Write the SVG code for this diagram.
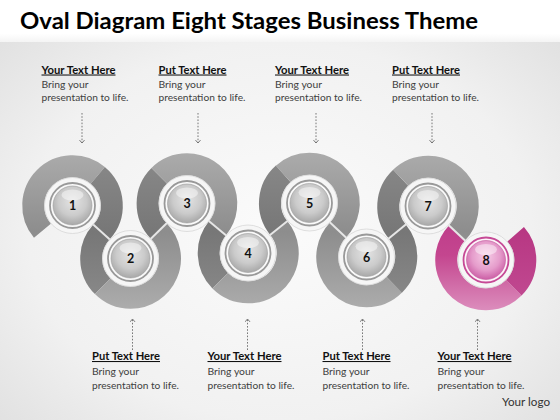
<svg xmlns="http://www.w3.org/2000/svg" width="560" height="420" viewBox="0 0 560 420">
<style>
.title{font-family:Lato,"Open Sans","Liberation Sans",sans-serif;font-weight:bold;font-size:23px;fill:#000}
.hd{font-family:Lato,"Open Sans","Liberation Sans",sans-serif;font-weight:bold;font-size:10.5px;fill:#111;text-decoration:underline}
.bd{font-family:Lato,"Open Sans","Liberation Sans",sans-serif;font-size:10px;fill:#404040}
.num{font-family:Lato,"Open Sans","Liberation Sans",sans-serif;font-weight:bold;font-size:12.5px;fill:#111;text-anchor:middle}
.logo{font-family:Lato,"Open Sans","Liberation Sans",sans-serif;font-size:10.5px;fill:#333}
.rl{fill:none;stroke:url(#gLight);stroke-width:22}
.rd{fill:none;stroke:url(#gDark);stroke-width:22}
.pl{fill:none;stroke:url(#pLight);stroke-width:22}
.pd{fill:none;stroke:url(#pDark);stroke-width:22}
.halo{fill:#f6f6f6;stroke:#d2d2d2;stroke-width:0.7}
.ring{fill:#fafafa;stroke:#999;stroke-width:1.8}
.pring{fill:#fdf3f9;stroke:#c64a96;stroke-width:1.8}
.sph{fill:url(#gSph);stroke:#9c9c9c;stroke-width:0.6}
.psph{fill:url(#pSph);stroke:#c35a9c;stroke-width:0.6}
.hl{fill:#fff;opacity:0.45}
.link{stroke:#e6e6e6;stroke-width:2;fill:none}
.dash{stroke:#6a6a6a;stroke-width:0.9;stroke-dasharray:1.6 1.6;fill:none;marker-end:url(#chev)}
</style>
<defs>
<radialGradient id="bg" cx="0.5" cy="0.55" r="0.75">
<stop offset="0" stop-color="#fbfbfb"/><stop offset="0.6" stop-color="#f1f1f1"/><stop offset="1" stop-color="#dcdcdc"/>
</radialGradient>
<linearGradient id="top" x1="0" y1="0" x2="0" y2="1">
<stop offset="0" stop-color="#ffffff"/><stop offset="0.8" stop-color="#ffffff"/><stop offset="1" stop-color="#f4f4f4"/>
</linearGradient>
<linearGradient id="gLight" gradientUnits="userSpaceOnUse" x1="0" y1="153" x2="0" y2="311">
<stop offset="0" stop-color="#ababab"/><stop offset="0.5" stop-color="#8d8d8d"/><stop offset="1" stop-color="#adadad"/>
</linearGradient>
<linearGradient id="gDark" gradientUnits="userSpaceOnUse" x1="0" y1="153" x2="0" y2="311">
<stop offset="0" stop-color="#8a8a8a"/><stop offset="0.5" stop-color="#777777"/><stop offset="1" stop-color="#8c8c8c"/>
</linearGradient>
<linearGradient id="pLight" gradientUnits="userSpaceOnUse" x1="0" y1="210" x2="0" y2="311">
<stop offset="0" stop-color="#bc3888"/><stop offset="0.45" stop-color="#c4468f"/><stop offset="1" stop-color="#dc8ebd"/>
</linearGradient>
<linearGradient id="pDark" gradientUnits="userSpaceOnUse" x1="0" y1="210" x2="0" y2="311">
<stop offset="0" stop-color="#b5327f"/><stop offset="1" stop-color="#c24c93"/>
</linearGradient>
<radialGradient id="gSph" cx="0.5" cy="0.4" r="0.6">
<stop offset="0" stop-color="#e4e4e4"/><stop offset="0.6" stop-color="#cbcbcb"/><stop offset="1" stop-color="#a8a8a8"/>
</radialGradient>
<radialGradient id="pSph" cx="0.5" cy="0.4" r="0.6">
<stop offset="0" stop-color="#f6cce6"/><stop offset="0.6" stop-color="#e59ccb"/><stop offset="1" stop-color="#cc5fa6"/>
</radialGradient>
<marker id="chev" markerUnits="userSpaceOnUse" markerWidth="8" markerHeight="8" refX="3.4" refY="3" orient="auto" viewBox="0 0 8 8">
<path d="M0.5,0.5 L3.4,3 L0.5,5.5" fill="none" stroke="#6a6a6a" stroke-width="0.9"/>
</marker>
</defs>

<rect x="0" y="0" width="560" height="420" fill="url(#bg)"/>
<rect x="0" y="0" width="560" height="42" fill="url(#top)"/>
<text class="title" x="20" y="29" textLength="458" lengthAdjust="spacingAndGlyphs">Oval Diagram Eight Stages Business Theme</text>

<g id="node1">
<path class="rl" d="M42.4 230.76 A39.3 39.3 0 0 1 97.76 175.4"/>
<path class="rd" d="M97.76 175.4 A39.3 39.3 0 0 1 101.5 232"/>
<circle class="halo" cx="72.5" cy="205.5" r="28"/>
<circle class="ring" cx="72.5" cy="205.5" r="22.5"/>
<circle class="sph" cx="72.5" cy="205.5" r="19.5"/>
<ellipse class="hl" cx="72.5" cy="195" rx="11" ry="5.5"/>
<text class="num" x="72.5" y="210">1</text>
</g>
<g id="node2">
<path class="rd" d="M101.5 232 A39.3 39.3 0 0 0 102.71 286.29"/>
<path class="rl" d="M102.71 286.29 A39.3 39.3 0 0 0 130.5 297.8 A39.3 39.3 0 0 0 158.75 231"/>
<circle class="halo" cx="130.5" cy="258.5" r="28"/>
<circle class="ring" cx="130.5" cy="258.5" r="22.5"/>
<circle class="sph" cx="130.5" cy="258.5" r="19.5"/>
<ellipse class="hl" cx="130.5" cy="248" rx="11" ry="5.5"/>
<text class="num" x="130.5" y="263">2</text>
</g>
<g id="node3">
<path class="rd" d="M158.75 231 A39.3 39.3 0 0 1 159.21 175.71"/>
<path class="rl" d="M159.21 175.71 A39.3 39.3 0 0 1 187 164.2 A39.3 39.3 0 0 1 217.5 228.25"/>
<circle class="halo" cx="187" cy="203.5" r="28"/>
<circle class="ring" cx="187" cy="203.5" r="22.5"/>
<circle class="sph" cx="187" cy="203.5" r="19.5"/>
<ellipse class="hl" cx="187" cy="193" rx="11" ry="5.5"/>
<text class="num" x="187" y="208">3</text>
</g>
<g id="node4">
<path class="rd" d="M217.5 228.25 A39.3 39.3 0 0 0 220.21 280.79"/>
<path class="rl" d="M220.21 280.79 A39.3 39.3 0 0 0 248 292.3 A39.3 39.3 0 0 0 278.75 228"/>
<circle class="halo" cx="248" cy="253" r="28"/>
<circle class="ring" cx="248" cy="253" r="22.5"/>
<circle class="sph" cx="248" cy="253" r="19.5"/>
<ellipse class="hl" cx="248" cy="242.5" rx="11" ry="5.5"/>
<text class="num" x="248" y="257.5">4</text>
</g>
<g id="node5">
<path class="rd" d="M278.75 228 A39.3 39.3 0 0 1 283.2 173.8"/>
<path class="rl" d="M283.2 173.8 A39.3 39.3 0 0 1 309.5 163.7 A39.3 39.3 0 0 1 338 230"/>
<circle class="halo" cx="309.5" cy="203" r="28"/>
<circle class="ring" cx="309.5" cy="203" r="22.5"/>
<circle class="sph" cx="309.5" cy="203" r="19.5"/>
<ellipse class="hl" cx="309.5" cy="192.5" rx="11" ry="5.5"/>
<text class="num" x="309.5" y="207.5">5</text>
</g>
<g id="node6">
<path class="rl" d="M338 230 A39.3 39.3 0 0 0 366.5 296.3 A39.3 39.3 0 0 0 394.29 284.79"/>
<path class="rd" d="M394.29 284.79 A39.3 39.3 0 0 0 397.25 231.5"/>
<circle class="halo" cx="366.5" cy="257" r="28"/>
<circle class="ring" cx="366.5" cy="257" r="22.5"/>
<circle class="sph" cx="366.5" cy="257" r="19.5"/>
<ellipse class="hl" cx="366.5" cy="246.5" rx="11" ry="5.5"/>
<text class="num" x="366.5" y="261.5">6</text>
</g>
<g id="node7">
<path class="rd" d="M397.25 231.5 A39.3 39.3 0 0 1 400.7 177.73"/>
<path class="rl" d="M400.7 177.73 A39.3 39.3 0 0 1 428 166.7 A39.3 39.3 0 0 1 457 233"/>
<circle class="halo" cx="428" cy="206" r="28"/>
<circle class="ring" cx="428" cy="206" r="22.5"/>
<circle class="sph" cx="428" cy="206" r="19.5"/>
<ellipse class="hl" cx="428" cy="195.5" rx="11" ry="5.5"/>
<text class="num" x="428" y="210.5">7</text>
</g>
<g id="node8">
<path class="pl" d="M457 233 A39.3 39.3 0 0 0 486 299.3 A39.3 39.3 0 0 0 513.79 287.79"/>
<path class="pd" d="M513.79 287.79 A39.3 39.3 0 0 0 515.66 234.22"/>
<circle class="halo" cx="486" cy="260" r="28"/>
<circle class="pring" cx="486" cy="260" r="22.5"/>
<circle class="psph" cx="486" cy="260" r="19.5"/>
<ellipse class="hl" cx="486" cy="249.5" rx="11" ry="5.5"/>
<text class="num" x="486" y="264.5">8</text>
</g>

<g id="connectors">
<line class="link" x1="93.2" y1="224.4" x2="109.8" y2="239.6"/>
<line class="link" x1="150.6" y1="239" x2="166.9" y2="223"/>
<line class="link" x1="208.8" y1="221.1" x2="226.2" y2="235.4"/>
<line class="link" x1="269.7" y1="235.3" x2="287.8" y2="220.7"/>
<line class="link" x1="329.8" y1="222.3" x2="346.2" y2="237.7"/>
<line class="link" x1="388.1" y1="239.1" x2="406.4" y2="223.9"/>
<line class="link" x1="448.5" y1="225.1" x2="465.5" y2="240.9"/>
<path class="dash" d="M82 113 V143"/>
<path class="dash" d="M198 113 V143"/>
<path class="dash" d="M316 113 V143"/>
<path class="dash" d="M432 113 V143"/>
<path class="dash" d="M132.5 350 V319"/>
<path class="dash" d="M247.5 350 V319"/>
<path class="dash" d="M362.5 350 V319"/>
<path class="dash" d="M477.5 350 V319"/>
</g>

<g id="labels">
<text class="hd" x="41.5" y="73.5" textLength="74" lengthAdjust="spacingAndGlyphs">Your Text Here</text>
<text class="bd" x="41.5" y="88" textLength="47" lengthAdjust="spacingAndGlyphs">Bring your</text>
<text class="bd" x="41.5" y="101" textLength="87" lengthAdjust="spacingAndGlyphs">presentation to life.</text>
<text class="hd" x="158.5" y="73.5" textLength="68" lengthAdjust="spacingAndGlyphs">Put Text Here</text>
<text class="bd" x="158.5" y="88" textLength="47" lengthAdjust="spacingAndGlyphs">Bring your</text>
<text class="bd" x="158.5" y="101" textLength="87" lengthAdjust="spacingAndGlyphs">presentation to life.</text>
<text class="hd" x="275" y="73.5" textLength="74" lengthAdjust="spacingAndGlyphs">Your Text Here</text>
<text class="bd" x="275" y="88" textLength="47" lengthAdjust="spacingAndGlyphs">Bring your</text>
<text class="bd" x="275" y="101" textLength="87" lengthAdjust="spacingAndGlyphs">presentation to life.</text>
<text class="hd" x="392" y="73.5" textLength="68" lengthAdjust="spacingAndGlyphs">Put Text Here</text>
<text class="bd" x="392" y="88" textLength="47" lengthAdjust="spacingAndGlyphs">Bring your</text>
<text class="bd" x="392" y="101" textLength="87" lengthAdjust="spacingAndGlyphs">presentation to life.</text>

<text class="hd" x="92" y="360" textLength="68" lengthAdjust="spacingAndGlyphs">Put Text Here</text>
<text class="bd" x="92" y="375" textLength="47" lengthAdjust="spacingAndGlyphs">Bring your</text>
<text class="bd" x="92" y="388.5" textLength="87" lengthAdjust="spacingAndGlyphs">presentation to life.</text>
<text class="hd" x="207.5" y="360" textLength="74" lengthAdjust="spacingAndGlyphs">Your Text Here</text>
<text class="bd" x="207.5" y="375" textLength="47" lengthAdjust="spacingAndGlyphs">Bring your</text>
<text class="bd" x="207.5" y="388.5" textLength="87" lengthAdjust="spacingAndGlyphs">presentation to life.</text>
<text class="hd" x="322.5" y="360" textLength="68" lengthAdjust="spacingAndGlyphs">Put Text Here</text>
<text class="bd" x="322.5" y="375" textLength="47" lengthAdjust="spacingAndGlyphs">Bring your</text>
<text class="bd" x="322.5" y="388.5" textLength="87" lengthAdjust="spacingAndGlyphs">presentation to life.</text>
<text class="hd" x="437.5" y="360" textLength="74" lengthAdjust="spacingAndGlyphs">Your Text Here</text>
<text class="bd" x="437.5" y="375" textLength="47" lengthAdjust="spacingAndGlyphs">Bring your</text>
<text class="bd" x="437.5" y="388.5" textLength="87" lengthAdjust="spacingAndGlyphs">presentation to life.</text>
<text class="logo" x="502" y="406" textLength="48" lengthAdjust="spacingAndGlyphs">Your logo</text>
</g>
</svg>
